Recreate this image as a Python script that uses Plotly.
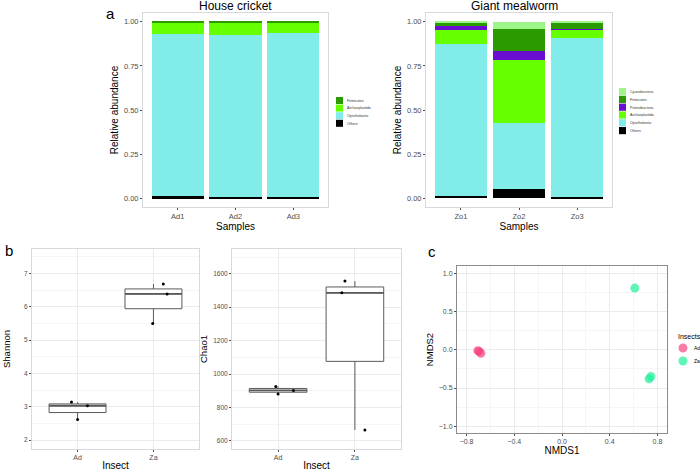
import numpy as np
import plotly.graph_objects as go

# --- panel a: relative abundance (stacked, bottom to top) ---
cricket_samples = ["Ad1", "Ad2", "Ad3"]
cricket_others = [0.011, 0.006, 0.005]
cricket_opisthokonta = [0.921, 0.922, 0.933]
cricket_archaeplastida = [0.064, 0.070, 0.056]
cricket_firmicutes = [0.004, 0.002, 0.006]

mealworm_samples = ["Zo1", "Zo2", "Zo3"]
mealworm_others = [0.015, 0.053, 0.008]
mealworm_opisthokonta = [0.860, 0.375, 0.898]
mealworm_archaeplastida = [0.076, 0.353, 0.049]
mealworm_proteobacteria = [0.028, 0.051, 0.007]
mealworm_firmicutes = [0.019, 0.130, 0.034]
mealworm_cyanobacteria = [0.002, 0.038, 0.004]

taxa_colors = {
    "Cyanobacteria": "#9ef58a",
    "Firmicutes": "#2a9a00",
    "Proteobacteria": "#6a0fd2",
    "Archaeplastida": "#66ff00",
    "Opisthokonta": "#82ede8",
    "Others": "#000000",
}

# --- panel b: alpha diversity ---
groups = ["Ad", "Za"]
shannon_ad = [3.14, 3.03, 2.62]
shannon_za = [6.69, 6.39, 5.50]
chao1_ad = [926, 881, 902]
chao1_za = [1556, 1486, 666]
shannon_jitter_ad = [-0.08, 0.13, 0.0]
shannon_jitter_za = [0.13, 0.18, -0.01]
chao1_jitter_ad = [-0.03, 0.0, 0.2]
chao1_jitter_za = [-0.13, -0.17, 0.13]

# --- panel c: NMDS ---
nmds1_ad = [-0.705, -0.695, -0.68]
nmds2_ad = [-0.01, -0.02, -0.045]
nmds1_za = [0.61, 0.73, 0.745]
nmds2_za = [0.81, -0.38, -0.35]
insect_colors = {"Ad": "#f7447e", "Za": "#1ef09a"}

W, H = 700, 472
FONT = "Liberation Sans"


def px(x):
    return x / W


def py(y):
    return 1 - y / H


fig = go.Figure()

# stacked bars
cricket_stack = [
    ("Others", cricket_others),
    ("Opisthokonta", cricket_opisthokonta),
    ("Archaeplastida", cricket_archaeplastida),
    ("Firmicutes", cricket_firmicutes),
]
mealworm_stack = [
    ("Others", mealworm_others),
    ("Opisthokonta", mealworm_opisthokonta),
    ("Archaeplastida", mealworm_archaeplastida),
    ("Proteobacteria", mealworm_proteobacteria),
    ("Firmicutes", mealworm_firmicutes),
    ("Cyanobacteria", mealworm_cyanobacteria),
]
for name, vals in cricket_stack:
    fig.add_trace(go.Bar(x=cricket_samples, y=vals, name=name, marker_color=taxa_colors[name],
                         marker_line_width=0, xaxis="x", yaxis="y", showlegend=False))
for name, vals in mealworm_stack:
    fig.add_trace(go.Bar(x=mealworm_samples, y=vals, name=name, marker_color=taxa_colors[name],
                         marker_line_width=0, xaxis="x2", yaxis="y2", showlegend=False))


def add_box(values, jitter, pos, xa, ya):
    q1, med, q3 = np.percentile(values, [25, 50, 75])
    fig.add_trace(go.Box(x=[pos], q1=[q1], median=[med], q3=[q3],
                         lowerfence=[min(values)], upperfence=[max(values)],
                         width=0.75, whiskerwidth=0, fillcolor="white",
                         line=dict(color="#5a5a5a", width=1), boxpoints=False,
                         xaxis=xa, yaxis=ya, showlegend=False))
    fig.add_trace(go.Scatter(x=[pos - 0.375, pos + 0.375], y=[med, med], mode="lines",
                             line=dict(color="#5a5a5a", width=1.8), xaxis=xa, yaxis=ya,
                             showlegend=False))
    fig.add_trace(go.Scatter(x=[pos + j for j in jitter], y=values, mode="markers",
                             marker=dict(color="black", size=3), xaxis=xa, yaxis=ya,
                             showlegend=False))


add_box(shannon_ad, shannon_jitter_ad, 1, "x3", "y3")
add_box(shannon_za, shannon_jitter_za, 2, "x3", "y3")
add_box(chao1_ad, chao1_jitter_ad, 1, "x4", "y4")
add_box(chao1_za, chao1_jitter_za, 2, "x4", "y4")

# NMDS points
for g, xs, ys in [("Ad", nmds1_ad, nmds2_ad), ("Za", nmds1_za, nmds2_za)]:
    fig.add_trace(go.Scatter(x=xs, y=ys, mode="markers", name=g,
                             marker=dict(color=insect_colors[g], size=9, opacity=0.7),
                             xaxis="x5", yaxis="y5", showlegend=False))

tickfont = dict(family=FONT, size=7.5, color="#4d4d4d")
titlefont = dict(family=FONT, size=10, color="black")
light_border = "#d6dadc"

bar_x = dict(type="category", range=[-0.6, 2.6], ticks="outside", ticklen=2,
             tickcolor="#4d4d4d", showline=True, mirror=True, linecolor=light_border,
             showgrid=False, tickfont=tickfont, title=dict(text="Samples", font=titlefont, standoff=1))
bar_y = dict(range=[-0.05, 1.05], tickvals=[0, 0.25, 0.5, 0.75, 1], tickformat=".2f",
             ticks="outside", ticklen=2, tickcolor="#4d4d4d", showline=True, mirror=True,
             linecolor=light_border, showgrid=False, zeroline=False, tickfont=tickfont,
             title=dict(text="Relative abundance", font=titlefont, standoff=3))

box_tick = dict(family=FONT, size=6.5, color="#4d4d4d")
box_x = dict(range=[0.4, 2.6], tickvals=[1, 2], ticktext=groups, ticks="outside", ticklen=2,
             tickcolor="#4d4d4d", showline=True, mirror=True, linecolor=light_border,
             showgrid=True, gridcolor="#ebebeb", gridwidth=0.6, zeroline=False,
             tickfont=dict(family=FONT, size=7, color="#4d4d4d"),
             title=dict(text="Insect", font=titlefont, standoff=1))
box_y = dict(ticks="outside", ticklen=2, tickcolor="#4d4d4d", showline=True, mirror=True,
             linecolor=light_border, showgrid=True, gridcolor="#ebebeb", gridwidth=0.6,
             zeroline=False, tickfont=box_tick)

fig.update_layout(
    width=W, height=H, margin=dict(l=0, r=0, t=0, b=0),
    paper_bgcolor="white", plot_bgcolor="white", barmode="stack", bargap=0.1,
    font=dict(family=FONT),
    xaxis=dict(bar_x, domain=[px(143), px(328)], anchor="y"),
    yaxis=dict(bar_y, domain=[py(207), py(13)], anchor="x"),
    xaxis2=dict(bar_x, domain=[px(426), px(612)], anchor="y2"),
    yaxis2=dict(bar_y, domain=[py(207), py(13)], anchor="x2"),
    xaxis3=dict(box_x, domain=[px(32), px(199)], anchor="y3"),
    yaxis3=dict(box_y, domain=[py(449), py(249)], anchor="x3", range=[1.73, 7.74], dtick=1,
                minor=dict(dtick=0.5, showgrid=True, gridcolor="#f5f5f5", gridwidth=0.5),
                title=dict(text="Shannon", font=dict(family=FONT, size=9.5, color="black"), standoff=11)),
    xaxis4=dict(box_x, domain=[px(232), px(401)], anchor="y4"),
    yaxis4=dict(box_y, domain=[py(449), py(249)], anchor="x4", range=[552, 1748], dtick=200,
                minor=dict(dtick=100, showgrid=True, gridcolor="#f5f5f5", gridwidth=0.5),
                title=dict(text="Chao1", font=dict(family=FONT, size=9.5, color="black"), standoff=3)),
    xaxis5=dict(domain=[px(457), px(667)], anchor="y5", range=[-0.88, 0.88], tick0=0, dtick=0.4,
                tickformat=".1f", ticks="outside", ticklen=2, tickcolor="#4d4d4d",
                showline=True, mirror=True, linecolor="#8c8c8c", showgrid=True,
                gridcolor="#ebebeb", gridwidth=0.6, zeroline=False,
                minor=dict(dtick=0.2, showgrid=True, gridcolor="#f5f5f5", gridwidth=0.5),
                tickfont=dict(family=FONT, size=7, color="#4d4d4d"),
                title=dict(text="NMDS1", font=titlefont, standoff=1)),
    yaxis5=dict(domain=[py(433), py(266)], anchor="x5", range=[-1.09, 1.10], tick0=0, dtick=0.5,
                tickformat=".1f", ticks="outside", ticklen=2, tickcolor="#4d4d4d",
                showline=True, mirror=True, linecolor="#8c8c8c", showgrid=True,
                gridcolor="#ebebeb", gridwidth=0.6, zeroline=False,
                minor=dict(dtick=0.25, showgrid=True, gridcolor="#f5f5f5", gridwidth=0.5),
                tickfont=dict(family=FONT, size=7, color="#4d4d4d"),
                title=dict(text="NMDS2", font=dict(family=FONT, size=9.5, color="black"), standoff=3)),
)

annotations = []
shapes = []

# titles and panel letters
for text, x, y, size in [("House cricket", 235.5, 6, 12), ("Giant mealworm", 514.5, 6, 12)]:
    annotations.append(dict(text=text, x=px(x), y=py(y), xref="paper", yref="paper",
                            xanchor="center", yanchor="middle", showarrow=False,
                            font=dict(family=FONT, size=size, color="black")))
for text, x, y in [("a", 110, 13), ("b", 9, 250), ("c", 432, 251)]:
    annotations.append(dict(text=text, x=px(x), y=py(y), xref="paper", yref="paper",
                            xanchor="center", yanchor="middle", showarrow=False,
                            font=dict(family=FONT, size=15, color="black")))


# manual legends for bar panels (ggplot-like tiny keys)
def bar_legend(items, x0, y0, step):
    for i, name in enumerate(items):
        top = y0 + i * step
        shapes.append(dict(type="rect", xref="paper", yref="paper", x0=px(x0), x1=px(x0 + 7),
                           y0=py(top + step - 0.6), y1=py(top), fillcolor=taxa_colors[name],
                           line=dict(width=0)))
        annotations.append(dict(text=name, x=px(x0 + 9), y=py(top + step / 2), xref="paper",
                                yref="paper", xanchor="left", yanchor="middle", showarrow=False,
                                font=dict(family=FONT, size=3.6, color="#333333")))


bar_legend([n for n, _ in cricket_stack][::-1], 336, 97, 7.6)
bar_legend([n for n, _ in mealworm_stack][::-1], 619, 88, 7.8)

# NMDS legend
annotations.append(dict(text="Insects", x=px(676), y=py(336), xref="paper", yref="paper",
                        xanchor="left", yanchor="middle", showarrow=False,
                        font=dict(family=FONT, size=7, color="black")))
for i, g in enumerate(groups):
    cy = 348 + i * 13
    shapes.append(dict(type="circle", xref="paper", yref="paper", x0=px(678.5), x1=px(687.5),
                       y0=py(cy + 4.5), y1=py(cy - 4.5), fillcolor=insect_colors[g],
                       opacity=0.7, line=dict(width=0)))
    annotations.append(dict(text=g, x=px(692), y=py(cy), xref="paper", yref="paper",
                            xanchor="left", yanchor="middle", showarrow=False,
                            font=dict(family=FONT, size=5, color="black")))

fig.update_layout(annotations=annotations, shapes=shapes)
fig.write_html("out.html", config={"displayModeBar": False},
               post_script="document.body.style.margin='0';")
